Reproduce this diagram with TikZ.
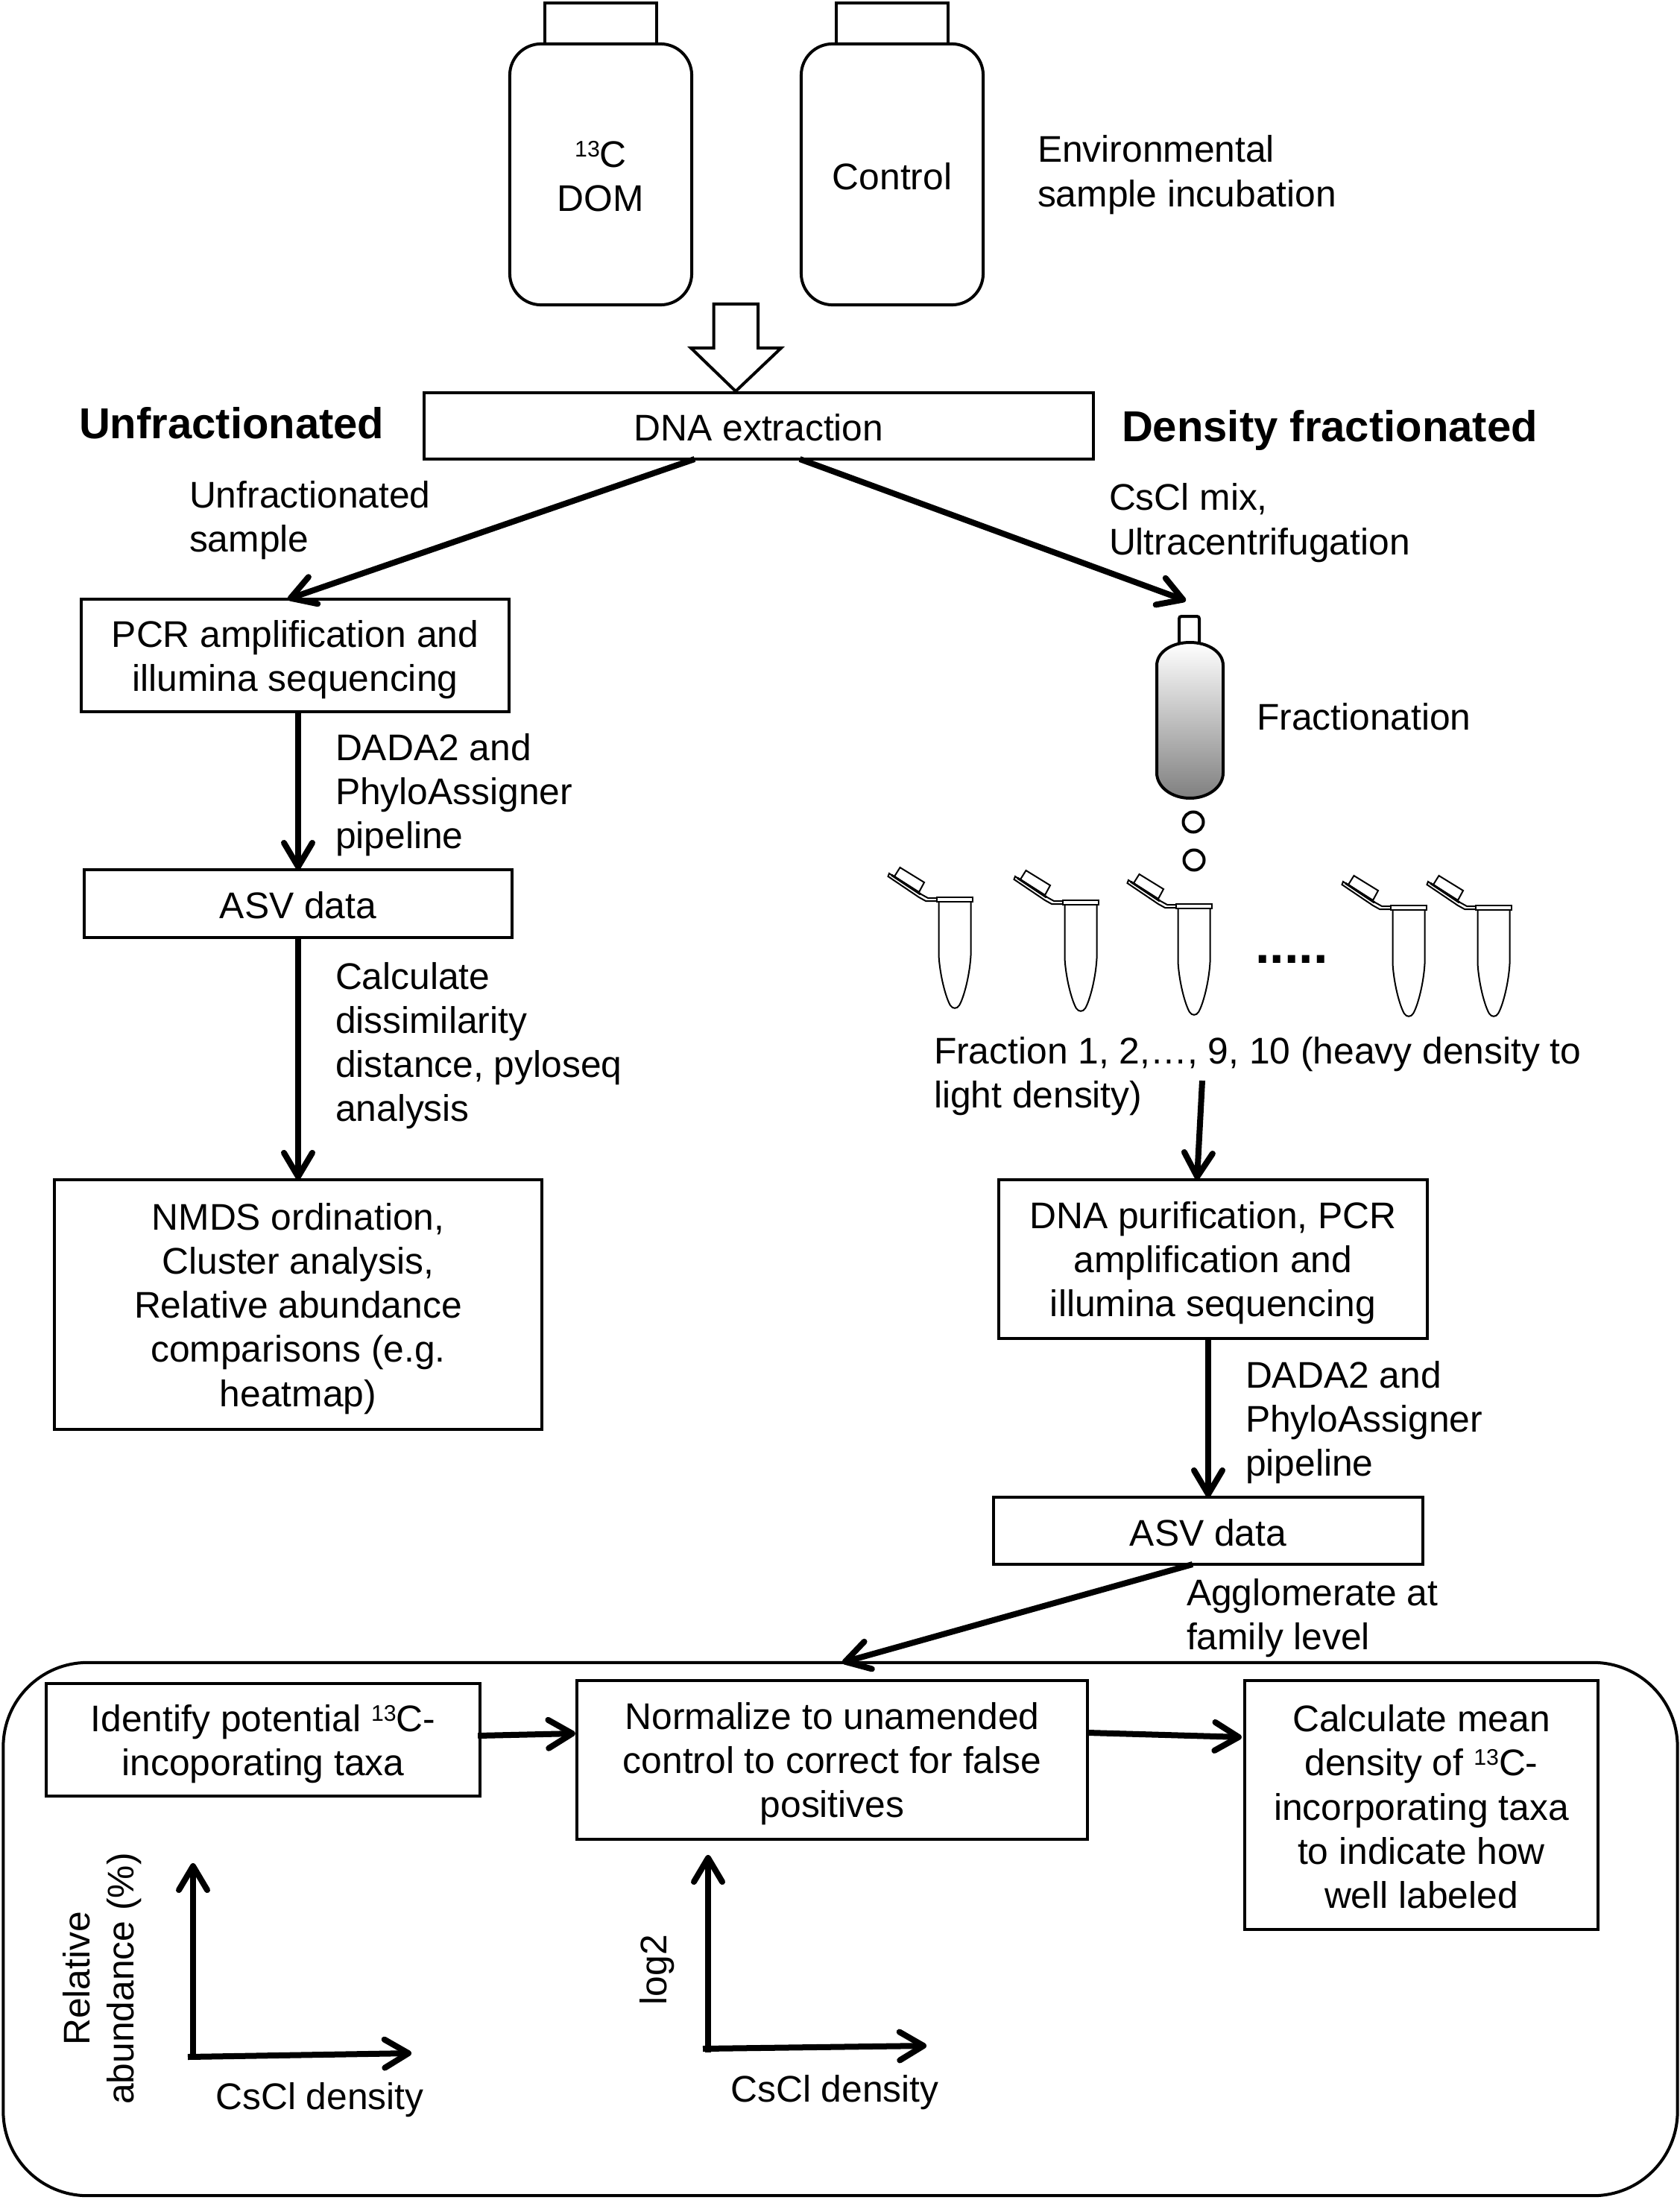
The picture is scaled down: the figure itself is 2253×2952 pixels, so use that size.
\documentclass[tikz,border=0pt]{standalone}
\usepackage{fontspec}
\setmainfont{Liberation Sans}
\usetikzlibrary{arrows.meta,calc}
\newcommand{\st}{\rule[-0.07cm]{0pt}{0.54cm}}
\newcommand{\supt}[1]{\raisebox{4pt}{\fontsize{8.6}{8.6}\selectfont #1}}
\tikzset{
  box/.style={draw,line width=0.04cm,inner sep=0,outer sep=0,align=center,font=\fontsize{14.15}{16.8}\selectfont},
  lbl/.style={inner sep=0,outer sep=0,anchor=north west,yshift=0.47cm,align=left,font=\fontsize{14.15}{16.8}\selectfont},
  ctr/.style={inner sep=0,outer sep=0,align=center,font=\fontsize{14.15}{16.8}\selectfont},
  conn/.style={line width=0.08cm,-{Straight Barb[length=0.32cm,width=0.38cm,round]}},
  wire/.style={line width=0.02cm},
  epp/.pic={
    \draw[wire,fill=white] (-21.5,5) -- (-21.5,78) .. controls (-20,105) and (-12,135) .. (-6,145) .. controls (-3,150) and (3,150) .. (6,145) .. controls (12,135) and (20,105) .. (21.5,78) -- (21.5,5);
    \draw[wire,fill=white] (-24,1) -- (-36,1) -- (-45,-4) -- (-88,-32) -- (-89.5,-28) -- (-48,0) -- (-39,5) -- (-24,5);
    \draw[wire,fill=white] (-73.5,-40) -- (-41,-20) -- (-48,-7) -- (-81,-28) -- cycle;
    \draw[line width=0.03cm] (-85,-30) -- (-46,-4);
    \draw[wire,fill=white,line width=0.025cm] (-24,0) rectangle (24,6);
  }
}
\begin{document}
\begin{tikzpicture}[x=0.01cm,y=-0.01cm]
\useasboundingbox (0,0) rectangle (2253,2952);
% outer box
\node[box,rounded corners=1.13cm,minimum width=22.45cm,minimum height=7.15cm] (round) at (1127.5,2588.5) {};
% bottles
\node[box,minimum width=1.5cm,minimum height=0.55cm] (cap1) at (806,31.5) {};
\node[box,minimum width=1.5cm,minimum height=0.55cm] (cap2) at (1197,31.5) {};
\node[box,rounded corners=0.42cm,minimum width=2.44cm,minimum height=3.5cm] (bot1) at (806,234) {\st\supt{13}C\\\st DOM};
\node[box,rounded corners=0.42cm,minimum width=2.44cm,minimum height=3.5cm] (bot2) at (1197,234) {\st Control};
\node[lbl] (env) at (1392,218) {\st Environmental\\\st sample incubation};
% hollow arrow
\draw[line width=0.04cm,line join=miter] (957.5,408) -- (1017,408) -- (1017,467) -- (1048,467) -- (987,525) -- (927,467) -- (957.5,467) -- cycle;
% top
\node[box,minimum width=8.98cm,minimum height=0.89cm] (dna) at (1018,571.5) {\st DNA extraction};
\node[lbl,font=\bfseries\fontsize{16.5}{19}\selectfont] (unf) at (106,589) {\st Unfractionated};
\node[lbl,font=\bfseries\fontsize{16.5}{19}\selectfont] (den) at (1505,593) {\st Density fractionated};
\node[lbl] (us) at (254,681) {\st Unfractionated\\\st sample};
\node[lbl] (cs) at (1488,685) {\st CsCl mix,\\\st Ultracentrifugation};
% left column
\node[box,minimum width=5.74cm,minimum height=1.51cm] (pcr) at (396,879.5) {\st PCR amplification and\\\st illumina sequencing};
\node[box,minimum width=5.74cm,minimum height=0.91cm] (asv1) at (400,1212.5) {\st ASV data};
\node[box,minimum width=6.54cm,minimum height=3.35cm] (nmds) at (400,1750.5) {\st NMDS ordination,\\\st Cluster analysis,\\\st Relative abundance\\\st comparisons (e.g.\\\st heatmap)};
\node[lbl] (dada1) at (450,1020) {\st DADA2 and\\\st PhyloAssigner\\\st pipeline};
\node[lbl] (calcd) at (450,1327) {\st Calculate\\\st dissimilarity\\\st distance, pyloseq\\\st analysis};
% right column: fractionation
\coordinate (fr) at (1591,806);
\draw[line width=0.04cm,rounded corners=0.03cm] (1582,862) -- (1582,827) -- (1609,827) -- (1609,862);
\draw[line width=0.04cm,top color=white,bottom color=black!50]
  (1552,893) .. controls (1552,875) and (1572,862) .. (1596.5,862) .. controls (1621,862) and (1641,875) .. (1641,893)
  -- (1641,1037) .. controls (1641,1056) and (1621,1071) .. (1596.5,1071) .. controls (1572,1071) and (1552,1056) .. (1552,1037) -- cycle;
\node[draw,circle,line width=0.04cm,inner sep=0,minimum size=0.27cm] (d1) at (1601,1103) {};
\node[draw,circle,line width=0.04cm,inner sep=0,minimum size=0.27cm] (d2) at (1602,1154) {};
\node[lbl] (frt) at (1686,979) {\st Fractionation};
\pic at (1281,1204) {epp};
\pic at (1450,1208) {epp};
\pic at (1602,1213) {epp};
\pic at (1890,1215) {epp};
\pic at (2004,1215) {epp};
\node[ctr,font=\bfseries\fontsize{20}{24}\selectfont] (dots) at (1733,1272) {\st .....};
\node[lbl] (fra) at (1253,1427) {\st Fraction 1, 2,…, 9, 10 (heavy density to\\\st light density)};
\coordinate (fs) at (1613,1450);
\node[box,minimum width=5.75cm,minimum height=2.13cm] (purif) at (1627.5,1689.5) {\st DNA purification, PCR\\\st amplification and\\\st illumina sequencing};
\node[box,minimum width=5.76cm,minimum height=0.9cm] (asv2) at (1621,2054) {\st ASV data};
\node[lbl] (dada2) at (1671,1862) {\st DADA2 and\\\st PhyloAssigner\\\st pipeline};
\node[lbl] (agg) at (1592,2154) {\st Agglomerate at\\\st family level};
% bottom row
\node[box,minimum width=5.82cm,minimum height=1.51cm] (iden) at (353,2334.5) {\st Identify potential \supt{13}C-\\\st incoporating taxa};
\node[box,minimum width=6.85cm,minimum height=2.13cm] (norm) at (1116.5,2361.5) {\st Normalize to unamended\\\st control to correct for false\\\st positives};
\node[box,minimum width=4.74cm,minimum height=3.34cm] (calc) at (1907,2422) {\st Calculate mean\\\st density of \supt{13}C-\\\st incorporating taxa\\\st to indicate how\\\st well labeled};
% axes
\coordinate (y1a) at (259,2764); \coordinate (y1b) at (259,2500);
\coordinate (x1a) at (252,2760); \coordinate (x1b) at (552,2755);
\coordinate (y2a) at (950,2754); \coordinate (y2b) at (950,2489);
\coordinate (x2a) at (943,2749); \coordinate (x2b) at (1243,2745);
\draw[conn] (y1a) -- (y1b);
\draw[conn] (x1a) -- (x1b);
\draw[conn] (y2a) -- (y2b);
\draw[conn] (x2a) -- (x2b);
\node[ctr] (cd1) at (429,2812) {\st CsCl density};
\node[ctr] (cd2) at (1120,2802) {\st CsCl density};
\node[ctr,rotate=90] (ra) at (131.5,2655) {\st Relative\\\st abundance (\%)};
\node[ctr,rotate=90] (lg) at (876,2643) {\st log2};
% connectors
\draw[conn] ([xshift=-0.86cm]dna.south) -- ([xshift=-0.1cm]pcr.north);
\draw[conn] ([xshift=0.55cm]dna.south) -- (fr);
\draw[conn] (asv1.north |- pcr.south) -- (asv1.north);
\draw[conn] (asv1.south) -- (nmds.north);
\draw[conn] (fs) -- ([xshift=-0.215cm]purif.north);
\draw[conn] (asv2.north |- purif.south) -- (asv2.north);
\draw[conn] ([xshift=-0.21cm]asv2.south) -- ([xshift=0.025cm]round.north);
\draw[conn] ([yshift=0.055cm,xshift=-0.03cm]iden.east) -- ([yshift=0.355cm,xshift=-0.02cm]norm.west);
\draw[conn] ([yshift=0.365cm]norm.east) -- ([yshift=0.91cm,xshift=-0.04cm]calc.west);
\end{tikzpicture}
\end{document}
